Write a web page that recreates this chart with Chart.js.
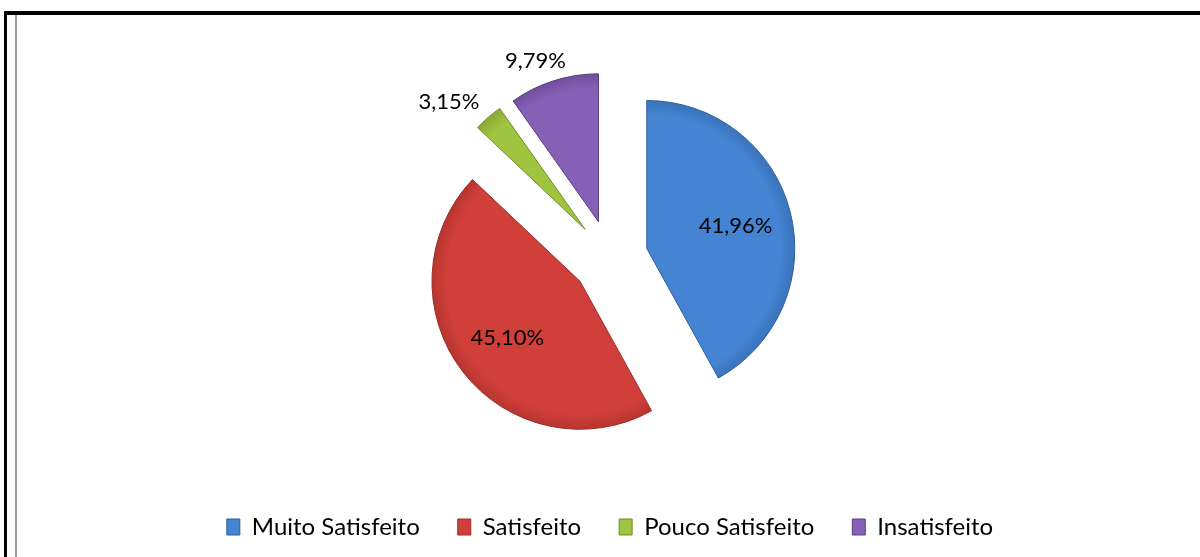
<!DOCTYPE html>
<html>
<head>
<meta charset="utf-8">
<script src="https://cdn.jsdelivr.net/npm/chart.js@4/dist/chart.umd.min.js"></script>
<style>
    html, body { margin: 0; padding: 0; background: #fff; }
    #page { position: relative; width: 1200px; height: 557px; overflow: hidden; }
    #chartBox { position: absolute; left: 0; top: 0; width: 1200px; height: 557px; }
    .rule { position: absolute; }
    #ruleTop { left: 4px; top: 11px; width: 1196px; height: 4px; background: #000; }
    #ruleLeft { left: 4px; top: 11px; width: 3px; height: 546px; background: #000; }
    #ruleInner { left: 15px; top: 15px; width: 2px; height: 542px; background: #9a9a9a; }
</style>
</head>
<body>
<div id="page">
    <div class="rule" id="ruleTop"></div>
    <div class="rule" id="ruleLeft"></div>
    <div class="rule" id="ruleInner"></div>
    <div id="chartBox"><canvas id="satisfacaoChart"></canvas></div>
</div>
<script>
// Satisfaction levels and their share of answers (%)
const categories = ['Muito Satisfeito', 'Satisfeito', 'Pouco Satisfeito', 'Insatisfeito'];
const shares = [41.96, 45.10, 3.15, 9.79];

// Slice colours: body and darker rim
const baseColors = ['#4484d2', '#d03f3a', '#9fc440', '#8660b6'];
const midColors = ['#3a74bb', '#b8352f', '#89aa33', '#704f9c'];
const rimColors = ['#2f5f9c', '#9c2b28', '#6f8c29', '#5b3e82'];

const PIE_RADIUS = 148;
const EXPLODE = 38;
const FONT = 'Lato, "Open Sans", sans-serif';

// "41,96%" style labels
function formatShare(v) {
    return v.toFixed(2).replace('.', ',') + '%';
}

// Radial shading so each slice darkens a little towards its outer edge
function sliceFill(context) {
    const i = context.dataIndex;
    const area = context.chart.chartArea;
    if (!area || i === undefined) return baseColors[i] || '#888';
    const cx = (area.left + area.right) / 2;
    const cy = (area.top + area.bottom) / 2;
    const g = context.chart.ctx.createRadialGradient(cx, cy, 0, cx, cy, PIE_RADIUS);
    g.addColorStop(0, baseColors[i]);
    g.addColorStop(0.9, baseColors[i]);
    g.addColorStop(1, midColors[i]);
    return g;
}

// Pull every slice out along its middle angle
const explodePlugin = {
    id: 'explodeSlices',
    beforeDatasetDraw(chart, args) {
        const ctx = chart.ctx;
        args.meta.data.forEach(arc => {
            const mid = (arc.startAngle + arc.endAngle) / 2;
            ctx.save();
            ctx.translate(Math.cos(mid) * EXPLODE, Math.sin(mid) * EXPLODE);
            arc.draw(ctx);
            ctx.restore();
        });
        return false;
    }
};

// Percent labels: big slices inside, thin ones outside the rim
const labelPlugin = {
    id: 'sliceLabels',
    afterDatasetsDraw(chart) {
        const ctx = chart.ctx;
        const arcs = chart.getDatasetMeta(0).data;
        ctx.save();
        ctx.font = '22px ' + FONT;
        ctx.fillStyle = '#000';
        ctx.textAlign = 'center';
        ctx.textBaseline = 'middle';
        arcs.forEach((arc, i) => {
            const text = formatShare(shares[i]);
            const mid = (arc.startAngle + arc.endAngle) / 2;
            const dx = Math.cos(mid);
            const dy = Math.sin(mid);
            const ox = arc.x + dx * EXPLODE;
            const oy = arc.y + dy * EXPLODE;
            let x, y;
            if (shares[i] > 20) {
                x = ox + dx * arc.outerRadius * 0.62;
                y = oy + dy * arc.outerRadius * 0.62;
            } else {
                const w = ctx.measureText(text).width;
                const r = arc.outerRadius + 4;
                x = ox + dx * r + dx * w * 0.92;
                y = oy + dy * r + dy * 24 * 0.7;
            }
            ctx.fillText(text, x, y);
        });
        ctx.restore();
    }
};

const ctx = document.getElementById('satisfacaoChart').getContext('2d');
const satisfacaoChart = new Chart(ctx, {
    type: 'pie',
    data: {
        labels: categories,
        datasets: [{
            data: shares,
            backgroundColor: sliceFill,
            borderColor: rimColors,
            borderWidth: 1,
            radius: PIE_RADIUS
        }]
    },
    options: {
        responsive: true,
        maintainAspectRatio: false,
        animation: false,
        layout: {
            padding: { top: 39, left: 20, right: 0, bottom: 8 }
        },
        plugins: {
            tooltip: { enabled: false },
            legend: {
                display: true,
                position: 'bottom',
                labels: {
                    color: '#000',
                    font: { family: FONT, size: 24 },
                    boxWidth: 13,
                    boxHeight: 16,
                    padding: 38,
                    generateLabels() {
                        return categories.map((name, i) => ({
                            text: name,
                            fillStyle: baseColors[i],
                            strokeStyle: rimColors[i],
                            lineWidth: 1,
                            hidden: false,
                            index: i
                        }));
                    }
                }
            }
        }
    },
    plugins: [explodePlugin, labelPlugin]
});
</script>
</body>
</html>
